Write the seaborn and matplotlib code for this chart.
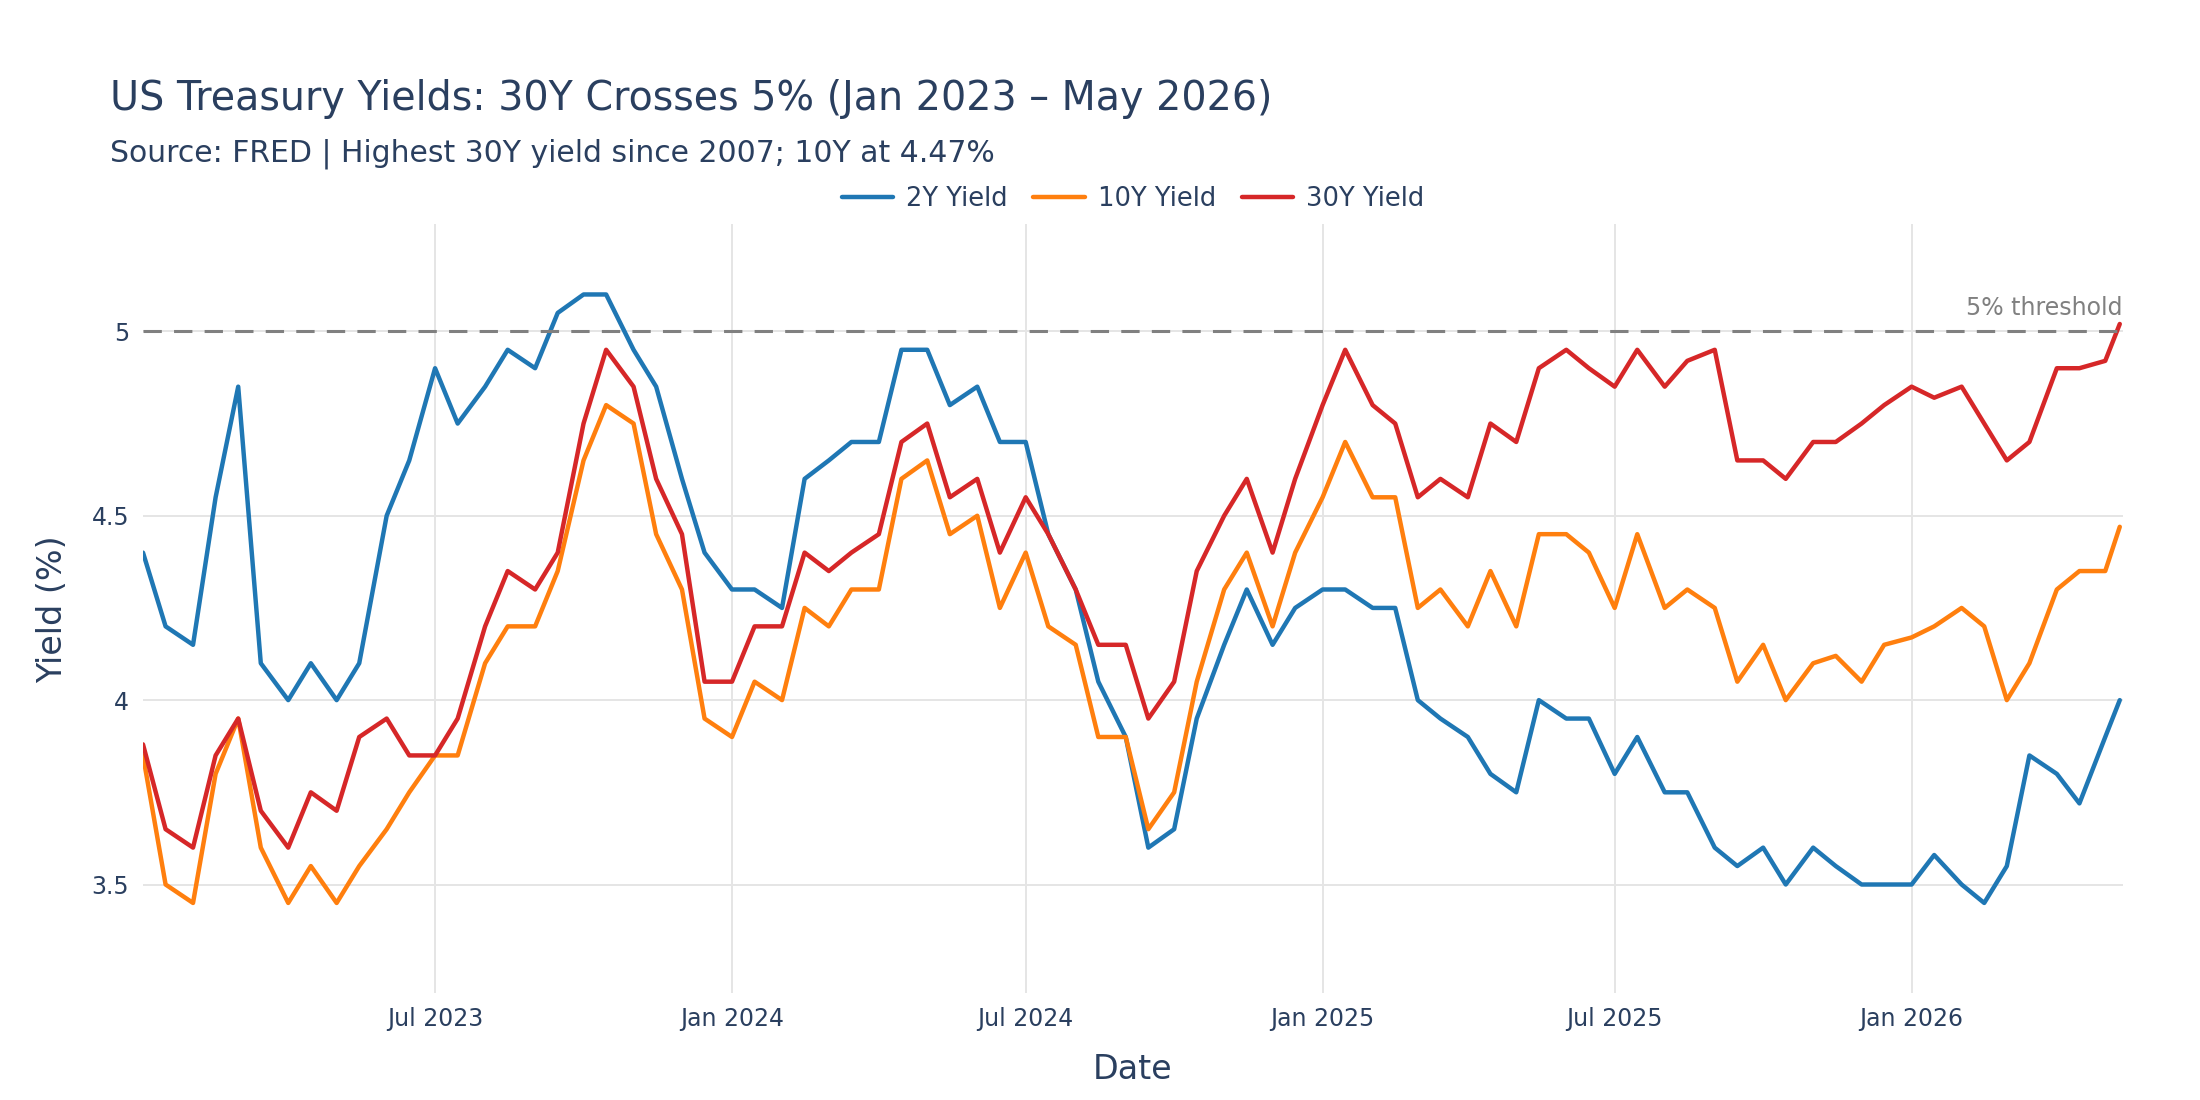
import pandas as pd
import numpy as np
import seaborn as sns
import matplotlib.pyplot as plt
import matplotlib.dates as mdates

# semi-monthly observation dates (1st and 15th), Jan 2023 - May 2026
dates = []
for y in [2023, 2024, 2025, 2026]:
    for m in range(1, 13):
        if y == 2026 and m > 5:
            break
        dates.append(f"{y}-{m:02d}-01")
        if y == 2026 and m == 5:
            dates.append("2026-05-10")
        else:
            dates.append(f"{y}-{m:02d}-15")

y2 = [4.40, 4.20, 4.15, 4.55, 4.85, 4.10, 4.00, 4.10, 4.00, 4.10, 4.50, 4.65,
      4.90, 4.75, 4.85, 4.95, 4.90, 5.05, 5.10, 5.10, 4.95, 4.85, 4.60, 4.40,
      4.30, 4.30, 4.25, 4.60, 4.65, 4.70, 4.70, 4.95, 4.95, 4.80, 4.85, 4.70,
      4.70, 4.45, 4.30, 4.05, 3.90, 3.60, 3.65, 3.95, 4.15, 4.30, 4.15, 4.25,
      4.30, 4.30, 4.25, 4.25, 4.00, 3.95, 3.90, 3.80, 3.75, 4.00, 3.95, 3.95,
      3.80, 3.90, 3.75, 3.75, 3.60, 3.55, 3.60, 3.50, 3.60, 3.55, 3.50, 3.50,
      3.50, 3.58, 3.50, 3.45, 3.55, 3.85, 3.80, 3.72, 3.90, 4.00]
y10 = [3.85, 3.50, 3.45, 3.80, 3.95, 3.60, 3.45, 3.55, 3.45, 3.55, 3.65, 3.75,
       3.85, 3.85, 4.10, 4.20, 4.20, 4.35, 4.65, 4.80, 4.75, 4.45, 4.30, 3.95,
       3.90, 4.05, 4.00, 4.25, 4.20, 4.30, 4.30, 4.60, 4.65, 4.45, 4.50, 4.25,
       4.40, 4.20, 4.15, 3.90, 3.90, 3.65, 3.75, 4.05, 4.30, 4.40, 4.20, 4.40,
       4.55, 4.70, 4.55, 4.55, 4.25, 4.30, 4.20, 4.35, 4.20, 4.45, 4.45, 4.40,
       4.25, 4.45, 4.25, 4.30, 4.25, 4.05, 4.15, 4.00, 4.10, 4.12, 4.05, 4.15,
       4.17, 4.20, 4.25, 4.20, 4.00, 4.10, 4.30, 4.35, 4.35, 4.47]
y30 = [3.88, 3.65, 3.60, 3.85, 3.95, 3.70, 3.60, 3.75, 3.70, 3.90, 3.95, 3.85,
       3.85, 3.95, 4.20, 4.35, 4.30, 4.40, 4.75, 4.95, 4.85, 4.60, 4.45, 4.05,
       4.05, 4.20, 4.20, 4.40, 4.35, 4.40, 4.45, 4.70, 4.75, 4.55, 4.60, 4.40,
       4.55, 4.45, 4.30, 4.15, 4.15, 3.95, 4.05, 4.35, 4.50, 4.60, 4.40, 4.60,
       4.80, 4.95, 4.80, 4.75, 4.55, 4.60, 4.55, 4.75, 4.70, 4.90, 4.95, 4.90,
       4.85, 4.95, 4.85, 4.92, 4.95, 4.65, 4.65, 4.60, 4.70, 4.70, 4.75, 4.80,
       4.85, 4.82, 4.85, 4.75, 4.65, 4.70, 4.90, 4.90, 4.92, 5.02]

series_names = ["2Y Yield", "10Y Yield", "30Y Yield"]
colors = ["#1f77b4", "#ff7f0e", "#d62728"]

df = pd.DataFrame({"Date": pd.to_datetime(dates), "2Y Yield": y2,
                   "10Y Yield": y10, "30Y Yield": y30})
long = df.melt(id_vars="Date", var_name="Series", value_name="Yield")

sns.set_theme(style="whitegrid")
plt.rcParams['font.family'] = ['DejaVu Sans']
fig = plt.figure(figsize=(22, 11), dpi=100)
ax = fig.add_axes([0.065, 0.097, 0.9, 0.699])

sns.lineplot(data=long, x="Date", y="Yield", hue="Series", hue_order=series_names,
             palette=colors, linewidth=3.2, ax=ax)

ax.axhline(5, color="gray", linestyle=(0, (6, 4)), linewidth=2.2)
ax.text(pd.Timestamp("2026-05-12"), 5.03, "5% threshold", color="gray",
        fontsize=17, ha="right", va="bottom")

ax.set_xlim(pd.Timestamp("2023-01-01"), pd.Timestamp("2026-05-12"))
ax.set_ylim(3.205, 5.29)
ax.set_yticks([3.5, 4, 4.5, 5])
ax.set_yticklabels(["3.5", "4", "4.5", "5"])
ax.xaxis.set_major_locator(mdates.MonthLocator(bymonth=[1, 7]))
ax.xaxis.set_major_formatter(mdates.DateFormatter("%b %Y"))
ax.set_xticks([t for t in ax.get_xticks() if t > mdates.date2num(pd.Timestamp("2023-02-01"))])
ax.tick_params(labelsize=17, colors="#2a3f5f", length=0, pad=10)
for s in ax.spines.values():
    s.set_visible(False)
ax.grid(color="#e5e5e5", linewidth=1.4)
ax.set_xlabel("Date", fontsize=24, color="#2a3f5f", labelpad=16)
ax.set_ylabel("Yield (%)", fontsize=24, color="#2a3f5f", labelpad=16)

leg = ax.legend(loc="lower center", bbox_to_anchor=(0.5, 1.0), ncol=3, frameon=False,
                fontsize=18.5, handlelength=2, columnspacing=1.0, handletextpad=0.5,
                borderaxespad=0.1)
for t in leg.get_texts():
    t.set_color("#2a3f5f")

fig.text(0.05, 0.91, "US Treasury Yields: 30Y Crosses 5% (Jan 2023 – May 2026)",
         fontsize=28.5, color="#2a3f5f", va="center")
fig.text(0.05, 0.86, "Source: FRED | Highest 30Y yield since 2007; 10Y at 4.47%",
         fontsize=21.5, color="#2a3f5f", va="center")

plt.savefig("out.png", facecolor="white")
